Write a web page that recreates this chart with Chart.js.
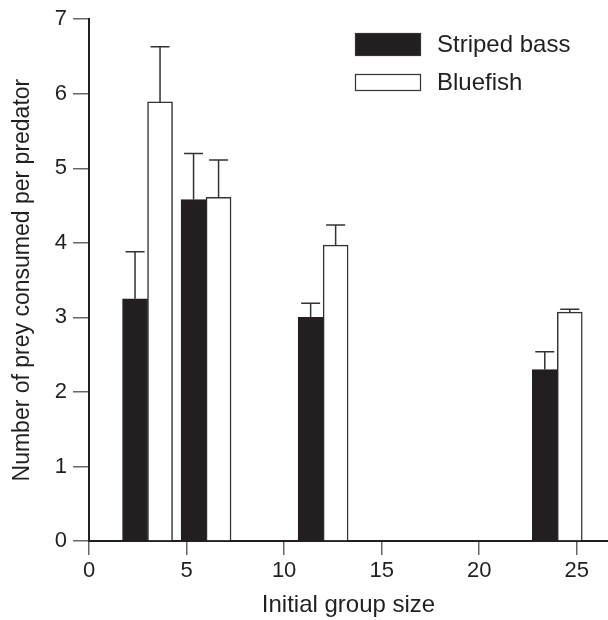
<!DOCTYPE html>
<html>
<head>
<meta charset="utf-8">
<script src="https://cdn.jsdelivr.net/npm/chart.js@4"></script>
<style>
  html, body { margin: 0; padding: 0; background: #fff; }
  #wrap { width: 608px; height: 620px; }
</style>
</head>
<body>
<div id="wrap"><canvas id="chart" width="608" height="620"></canvas></div>
<script>
const groupSizes = [3, 6, 12, 24];
const stripedBass = [3.25, 4.58, 3.0, 2.30];
const stripedBassErr = [0.63, 0.62, 0.19, 0.24];
const bluefish = [5.89, 4.61, 3.97, 3.07];
const bluefishErr = [0.74, 0.50, 0.27, 0.04];
const xTicks = [0, 5, 10, 15, 20, 25];
const yTicks = [0, 1, 2, 3, 4, 5, 6, 7];

const INK = '#231f20';
const FONT = '"Liberation Sans", Arial, Helvetica, sans-serif';

function toPoints(xs, ys, errs) {
  return xs.map((x, i) => ({ x: x, y: ys[i], err: errs[i] }));
}

// error bars: upward only, capped
const errorBars = {
  id: 'errorBars',
  afterDatasetsDraw(chart) {
    const ctx = chart.ctx;
    const yScale = chart.scales.y;
    ctx.save();
    ctx.strokeStyle = '#333';
    ctx.lineWidth = 1.5;
    chart.data.datasets.forEach((ds, di) => {
      const meta = chart.getDatasetMeta(di);
      meta.data.forEach((bar, i) => {
        const p = ds.data[i];
        const top = yScale.getPixelForValue(p.y + p.err);
        ctx.beginPath();
        ctx.moveTo(bar.x, bar.y);
        ctx.lineTo(bar.x, top);
        ctx.moveTo(bar.x - 9.5, top);
        ctx.lineTo(bar.x + 9.5, top);
        ctx.stroke();
      });
    });
    ctx.restore();
  }
};

// legend drawn as in the figure: stacked boxes, top right
const boxLegend = {
  id: 'boxLegend',
  afterDraw(chart) {
    const ctx = chart.ctx;
    const rows = [{ y: 33, h: 23 }, { y: 74, h: 17 }];
    ctx.save();
    ctx.font = '24px ' + FONT;
    ctx.textBaseline = 'middle';
    chart.data.datasets.forEach((ds, i) => {
      const r = rows[i];
      ctx.fillStyle = ds.backgroundColor;
      ctx.fillRect(355, r.y, 66, r.h);
      ctx.strokeStyle = '#333';
      ctx.lineWidth = 1.2;
      ctx.strokeRect(355.5, r.y + 0.5, 65, r.h - 1);
      ctx.fillStyle = INK;
      ctx.fillText(ds.label, 437, r.y + r.h / 2 + 1);
    });
    ctx.restore();
  }
};

new Chart(document.getElementById('chart'), {
  type: 'bar',
  data: {
    datasets: [
      {
        label: 'Striped bass',
        data: toPoints(groupSizes, stripedBass, stripedBassErr),
        backgroundColor: INK,
        borderColor: INK,
        borderWidth: 1,
        barThickness: 25
      },
      {
        label: 'Bluefish',
        data: toPoints(groupSizes, bluefish, bluefishErr),
        backgroundColor: '#ffffff',
        borderColor: '#333',
        borderWidth: 1.5,
        barThickness: 25
      }
    ]
  },
  options: {
    responsive: false,
    animation: false,
    layout: { padding: { top: 16, right: 0, left: 0, bottom: 0 } },
    plugins: {
      legend: { display: false },
      tooltip: { enabled: false }
    },
    scales: {
      x: {
        type: 'linear',
        min: 0,
        max: 26.6,
        offset: false,
        afterBuildTicks: (s) => { s.ticks = xTicks.map(v => ({ value: v })); },
        afterFit: (s) => { s.height = 79; },
        grid: { offset: false, drawOnChartArea: false, drawTicks: true, tickLength: 14, color: '#666', lineWidth: 1.5 },
        border: { display: true, color: INK, width: 2 },
        ticks: { color: INK, font: { family: FONT, size: 22 }, padding: 3, maxRotation: 0 },
        title: { display: true, text: 'Initial group size', color: INK, font: { family: FONT, size: 24 }, padding: { top: 0, bottom: 0 } }
      },
      y: {
        min: 0,
        max: 7,
        afterBuildTicks: (s) => { s.ticks = yTicks.map(v => ({ value: v })); },
        afterFit: (s) => { s.width = 89; },
        grid: { drawOnChartArea: false, drawTicks: true, tickLength: 16, color: '#666', lineWidth: 1.5 },
        border: { display: true, color: INK, width: 2 },
        ticks: { color: INK, font: { family: FONT, size: 22 }, padding: 6 },
        title: { display: true, text: 'Number of prey consumed per predator', color: INK, font: { family: FONT, size: 23 }, padding: { top: 9, bottom: 0 } }
      }
    }
  },
  plugins: [errorBars, boxLegend]
});
</script>
</body>
</html>
